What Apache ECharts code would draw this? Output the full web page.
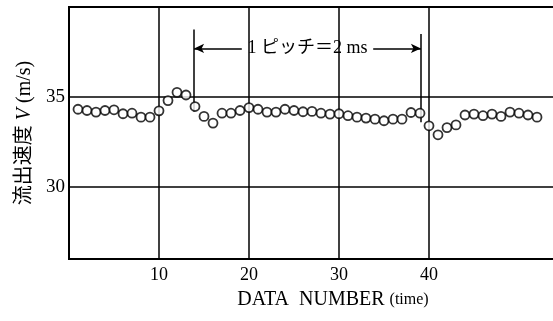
<!DOCTYPE html>
<html>
<head>
<meta charset="utf-8">
<script src="https://cdn.jsdelivr.net/npm/echarts@6/dist/echarts.min.js"></script>
<style>
  html, body { margin: 0; padding: 0; background: #fff; }
  #chart { width: 553px; height: 321px; }
</style>
</head>
<body>
<div id="chart"></div>
<script>
  // 流出速度 V (m/s)，DATA NUMBER 1..52
  const velocity = [
    34.32, 34.25, 34.16, 34.25, 34.29, 34.07, 34.1, 33.88, 33.88, 34.23,
    34.8, 35.26, 35.11, 34.47, 33.92, 33.55, 34.1, 34.1, 34.25, 34.41,
    34.32, 34.16, 34.16, 34.32, 34.25, 34.18, 34.2, 34.1, 34.05, 34.07,
    33.96, 33.88, 33.83, 33.77, 33.68, 33.77, 33.77, 34.14, 34.1, 33.4,
    32.9, 33.3, 33.45, 34.0, 34.05, 33.96, 34.05, 33.92, 34.16, 34.1,
    34.0, 33.88
  ]
  const xTicks = [10, 20, 30, 40]
  const yTicks = [30, 35]
  // 1ピッチの区間 (DATA NUMBER)
  const pitchRange = [13.9, 39.1]
  const pitchText = '1 ピッチ＝2 ms'

  const serif = "'Liberation Serif', 'Noto Sans CJK JP', serif"
  const points = velocity.map((v, i) => [i + 1, v])

  const chart = echarts.init(document.getElementById('chart'))
  const gridLine = { color: '#000', width: 1.5, type: 'solid' }

  chart.setOption({
    animation: false,
    backgroundColor: '#fff',
    grid: {
      left: 69, top: 7, width: 486, height: 252,
      show: true, borderColor: '#000', borderWidth: 2,
      outerBoundsMode: 'none'
    },
    xAxis: {
      type: 'value', min: 0, max: 54, interval: 10,
      axisLine: { show: false },
      axisTick: { show: false },
      splitLine: { show: false },
      axisLabel: {
        margin: 7,
        color: '#000', fontFamily: serif, fontSize: 18,
        formatter: (v) => (xTicks.includes(v) ? String(v) : '')
      },
      name: 'DATA  NUMBER {s|(time)}',
      nameLocation: 'middle',
      nameGap: 31,
      nameTextStyle: {
        color: '#000', fontFamily: serif, fontSize: 20,
        padding: [0, 0, 0, 42],
        rich: { s: { fontFamily: serif, fontSize: 16, color: '#000' } }
      }
    },
    yAxis: {
      type: 'value', min: 26, max: 40, interval: 1,
      axisLine: { show: false },
      axisTick: { show: false },
      splitLine: { show: false },
      axisLabel: {
        margin: 4,
        color: '#000', fontFamily: serif, fontSize: 19,
        formatter: (v) => (yTicks.includes(v) ? String(v) : '')
      },
      name: '流出速度 {i|V} (m/s)',
      nameLocation: 'middle',
      nameRotate: 90,
      nameGap: 32,
      nameTextStyle: {
        color: '#000', fontFamily: serif, fontSize: 20,
        padding: [0, 0, 0, 0],
        rich: { i: { fontFamily: serif, fontSize: 20, fontStyle: 'italic', color: '#000' } }
      }
    },
    series: [
      {
        // 目盛り線と1ピッチの区切り線
        type: 'line',
        data: [],
        silent: true,
        markLine: {
          silent: true,
          symbol: 'none',
          label: { show: false },
          lineStyle: gridLine,
          data: [
            ...yTicks.map((v) => ({ yAxis: v })),
            ...xTicks.map((v) => ({ xAxis: v })),
            [{ coord: [pitchRange[0], 38.75] }, { coord: [pitchRange[0], 34.2] }],
            [{ coord: [pitchRange[1], 38.5] }, { coord: [pitchRange[1], 33.6] }]
          ]
        }
      },
      {
        // 1ピッチ＝2 ms の矢印
        type: 'line',
        data: [],
        silent: true,
        markLine: {
          silent: true,
          symbol: ['none', 'arrow'],
          symbolSize: [7, 10],
          label: { show: false },
          lineStyle: { color: '#000', width: 1.5, type: 'solid' },
          data: [
            [{ coord: [19.2, 37.7] }, { coord: [pitchRange[0], 37.7] }],
            [{ coord: [33.8, 37.7] }, { coord: [pitchRange[1], 37.7] }]
          ]
        },
        markPoint: {
          silent: true,
          symbol: 'rect',
          symbolSize: 0,
          label: {
            show: true, position: 'inside',
            color: '#000', fontFamily: serif, fontSize: 18,
            formatter: pitchText
          },
          data: [{ coord: [26.5, 37.7] }]
        }
      },
      {
        type: 'scatter',
        data: points,
        symbol: 'circle',
        symbolSize: 9,
        itemStyle: { color: '#fff', borderColor: '#000', borderWidth: 1.8 },
        z: 5
      }
    ]
  })
</script>
</body>
</html>
